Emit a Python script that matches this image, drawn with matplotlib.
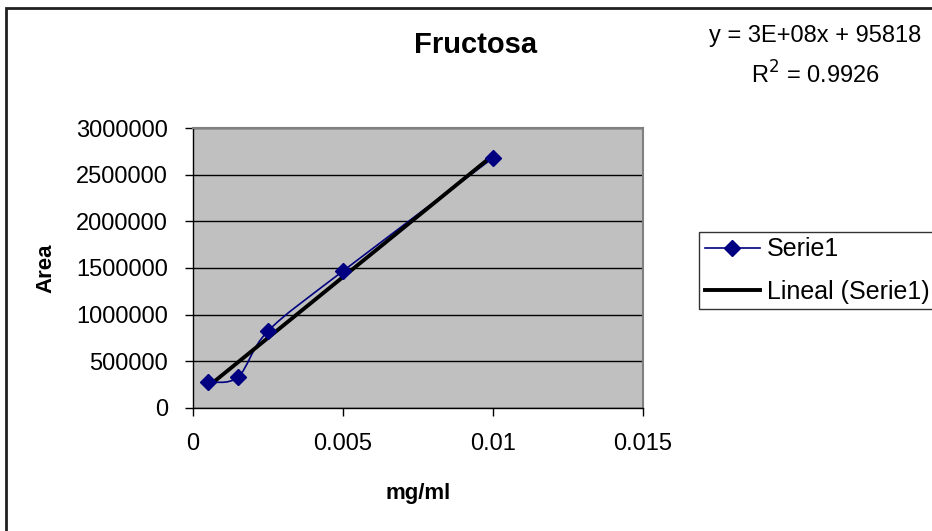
import matplotlib
matplotlib.use('Agg')

import matplotlib.pyplot as plt
from matplotlib.path import Path
from matplotlib.patches import PathPatch, Rectangle
from matplotlib.lines import Line2D
import numpy as np

# -----------------------------
# DATA
# -----------------------------
conc = [0.0005, 0.0015, 0.0025, 0.005, 0.01]          # mg/ml
area = [279000, 332000, 825000, 1468000, 2679000]      # Area
x_ticks = [0, 0.005, 0.01, 0.015]
x_tick_labels = ["0", "0.005", "0.01", "0.015"]
y_ticks = [0, 500000, 1000000, 1500000, 2000000, 2500000, 3000000]
eq_text = "y = 3E+08x + 95818"
r2_text = "R$^2$ = 0.9926"

NAVY = "#000080"
GRAY = "#C0C0C0"

plt.rcParams['font.family'] = ['Liberation Sans', 'DejaVu Sans']


def smooth_path(xs, ys):
    # Excel style smoothed line (Catmull-Rom as cubic bezier)
    pts = list(zip(xs, ys))
    verts = [pts[0]]
    codes = [Path.MOVETO]
    n = len(pts)
    for i in range(n - 1):
        p0 = pts[i - 1] if i > 0 else pts[i]
        p1 = pts[i]
        p2 = pts[i + 1]
        p3 = pts[i + 2] if i + 2 < n else pts[i + 1]
        c1 = (p1[0] + (p2[0] - p0[0]) / 6, p1[1] + (p2[1] - p0[1]) / 6)
        c2 = (p2[0] - (p3[0] - p1[0]) / 6, p2[1] - (p3[1] - p1[1]) / 6)
        verts += [c1, c2, p2]
        codes += [Path.CURVE4] * 3
    return Path(verts, codes)


def main():
    fig = plt.figure(figsize=(9.32, 5.31), dpi=100)
    fig.patch.set_facecolor("white")

    # outer chart border (right/bottom edges fall outside the picture)
    fig.add_artist(Rectangle((6 / 932, -0.1), 1.2, 1 - 8 / 531 + 0.1,
                             transform=fig.transFigure, fill=False,
                             edgecolor="#202020", linewidth=2))

    ax = fig.add_axes([193 / 932, (531 - 408) / 531, 450 / 932, 280 / 531])
    ax.set_facecolor(GRAY)

    # smoothed series line + markers
    ax.add_patch(PathPatch(smooth_path(conc, area), fill=False,
                           edgecolor=NAVY, linewidth=1.2, zorder=3))
    ax.plot(conc, area, linestyle="none", marker="D", markersize=8.5,
            color=NAVY, zorder=4)

    # linear trend line
    slope, intercept = np.polyfit(conc, area, 1)
    tx = np.array([conc[0], conc[-1]])
    ax.plot(tx, slope * tx + intercept, color="black", linewidth=2.8, zorder=3.5)

    ax.set_xlim(0, 0.015)
    ax.set_ylim(0, 3000000)
    ax.set_xticks(x_ticks)
    ax.set_xticklabels(x_tick_labels)
    ax.set_yticks(y_ticks)
    ax.set_yticklabels([str(v) for v in y_ticks])
    ax.tick_params(direction="out", length=6, width=1, color="black",
                   labelsize=17)
    ax.tick_params(axis="y", pad=12)
    ax.tick_params(axis="x", pad=12)

    ax.yaxis.grid(True, color="black", linewidth=1)
    ax.set_axisbelow(True)

    for side in ["top", "right"]:
        ax.spines[side].set_color("#808080")
        ax.spines[side].set_linewidth(1.5)
    for side in ["left", "bottom"]:
        ax.spines[side].set_color("black")
        ax.spines[side].set_linewidth(1)

    ax.set_xlabel("mg/ml", fontsize=16, fontweight="bold", labelpad=20)
    ax.set_ylabel("Area", fontsize=16, fontweight="bold", labelpad=14)

    fig.text(476 / 932, 1 - 45 / 531, "Fructosa", fontsize=21,
             fontweight="bold", ha="center", va="center")
    fig.text(815 / 932, 1 - 36 / 531, eq_text, fontsize=17,
             ha="center", va="center")
    fig.text(815 / 932, 1 - 75 / 531, r2_text, fontsize=17,
             ha="center", va="center")

    handles = [
        Line2D([], [], color=NAVY, linewidth=1.2, marker="D", markersize=8.5),
        Line2D([], [], color="black", linewidth=2.8),
    ]
    leg = fig.legend(handles, ["Serie1", "Lineal (Serie1)"],
                     loc="upper left", bbox_to_anchor=(699 / 932, 1 - 232 / 531),
                     fontsize=18, frameon=True, fancybox=False, shadow=False,
                     handlelength=2.2, handletextpad=0.3, borderpad=0.22,
                     labelspacing=0.72, borderaxespad=0)
    leg.get_frame().set_edgecolor("black")
    leg.get_frame().set_linewidth(1)

    fig.savefig("out.png", dpi=100)
    plt.close(fig)


if __name__ == "__main__":
    main()
